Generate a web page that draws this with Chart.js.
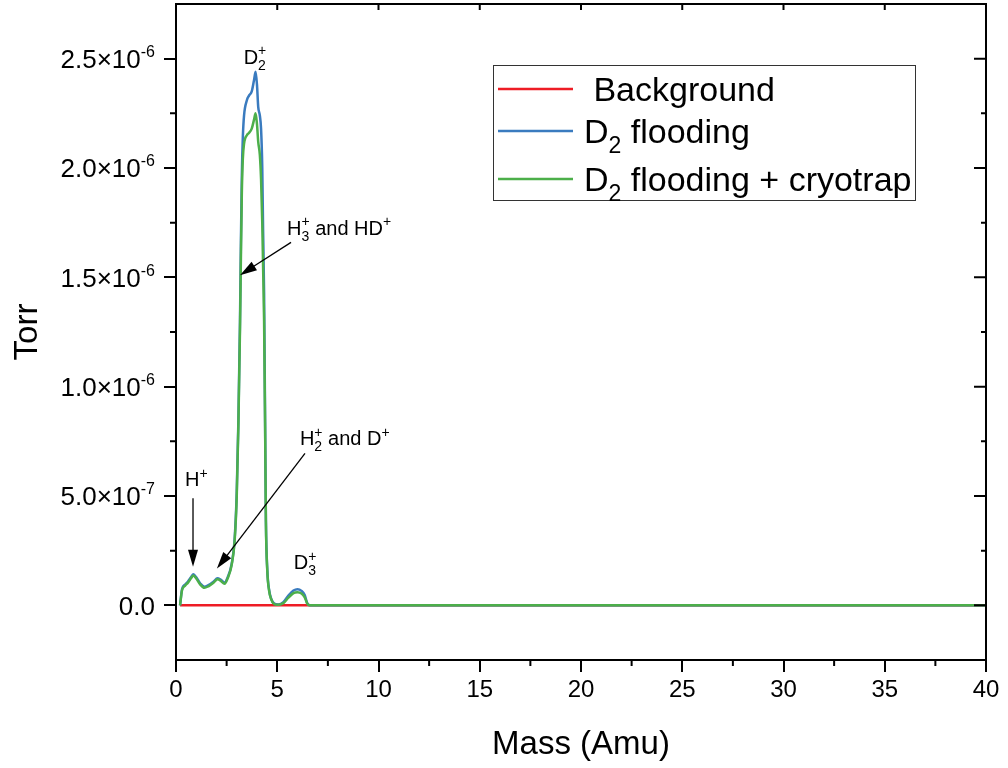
<!DOCTYPE html>
<html>
<head>
<meta charset="utf-8">
<script src="https://cdn.jsdelivr.net/npm/chart.js@4"></script>
<style>
  html, body { margin: 0; padding: 0; background: #fff; }
  #wrap { width: 1008px; height: 768px; position: relative; }
</style>
</head>
<body>
<div id="wrap"><canvas id="c"></canvas></div>
<script>
// pressure values are in units of 1e-6 Torr

const massBg = [0.2, 40];
const torrBg = [0, 0];

const massBlue = [0.2, 0.3, 0.45, 0.6, 0.75, 0.86, 1.0, 1.2, 1.4, 1.6, 1.85, 2.05, 2.2, 2.4, 2.55,
  2.75, 2.9, 3.0, 3.08, 3.16, 3.2, 3.25, 3.3, 3.36, 3.5, 3.6, 3.74, 3.85, 3.93, 4.0, 4.06, 4.14,
  4.2, 4.26, 4.3, 4.35, 4.4, 4.44, 4.51, 4.6, 4.7, 4.85, 5.05, 5.3, 5.55, 5.8, 6.0, 6.2, 6.35,
  6.48, 6.6, 40];
const torrBlue = [0, 0.075, 0.095, 0.11, 0.13, 0.142, 0.128, 0.1, 0.085, 0.092, 0.108, 0.124, 0.118, 0.104, 0.128,
  0.19, 0.31, 0.52, 0.84, 1.3, 1.62, 1.96, 2.14, 2.24, 2.31, 2.33, 2.35, 2.4, 2.44, 2.38, 2.28, 2.24,
  2.18, 2.0, 1.72, 1.43, 0.84, 0.39, 0.16, 0.07, 0.03, 0.008, 0.004, 0.014, 0.045, 0.068, 0.074, 0.066, 0.048,
  0.01, 0, 0];

const massGreen = massBlue;
const torrGreen = [0, 0.07, 0.09, 0.105, 0.125, 0.137, 0.123, 0.095, 0.08, 0.087, 0.103, 0.119, 0.113, 0.099, 0.123,
  0.185, 0.3, 0.5, 0.82, 1.26, 1.55, 1.88, 2.04, 2.11, 2.15, 2.16, 2.18, 2.22, 2.25, 2.2, 2.12, 2.06,
  1.95, 1.75, 1.55, 1.3, 0.82, 0.38, 0.155, 0.065, 0.028, 0.006, 0.003, 0.01, 0.035, 0.056, 0.06, 0.054, 0.038,
  0.008, 0, 0];

const xTicks = [0, 5, 10, 15, 20, 25, 30, 35, 40];
const xMinor = [2.5, 7.5, 12.5, 17.5, 22.5, 27.5, 32.5, 37.5];
const yTicks = [0, 0.5, 1, 1.5, 2, 2.5];
const yMinor = [0.25, 0.75, 1.25, 1.75, 2.25];
const yTickText = ['0.0', '5.0×10', '1.0×10', '1.5×10', '2.0×10', '2.5×10'];
const yTickExp = ['', '-7', '-6', '-6', '-6', '-6'];

// peak labels, placed in data coordinates
const peakLabels = [
  { x: 3.9, y: 2.51, align: 'center', parts: [{ t: 'D', sub: '2', sup: '+' }] },
  { x: 5.48, y: 1.727, align: 'left', parts: [{ t: 'H', sub: '3', sup: '+' }, { t: ' and HD', sup: '+' }] },
  { x: 6.12, y: 0.764, align: 'left', parts: [{ t: 'H', sub: '2', sup: '+' }, { t: ' and D', sup: '+' }] },
  { x: 1.0, y: 0.577, align: 'center', parts: [{ t: 'H', sup: '+' }] },
  { x: 6.37, y: 0.197, align: 'center', parts: [{ t: 'D', sub: '3', sup: '+' }] }
];
// arrows: [fromX, fromY, toX, toY]
const arrows = [
  [5.68, 1.66, 3.16, 1.51],
  [6.37, 0.695, 2.02, 0.168],
  [0.84, 0.49, 0.84, 0.177]
];

const legendItems = [
  { color: '#ee1c25', parts: [{ t: ' Background' }] },
  { color: '#3a7bbf', parts: [{ t: 'D', sub: '2' }, { t: ' flooding' }] },
  { color: '#4caf4a', parts: [{ t: 'D', sub: '2' }, { t: ' flooding + cryotrap' }] }
];

const FONT = '"Liberation Sans", Arial, sans-serif';
Chart.defaults.font.family = FONT;
Chart.defaults.color = '#000';

function toPoints(xs, ys) {
  return xs.map((x, i) => ({ x: x, y: ys[i] }));
}

// text with stacked subscript / superscript; y is the middle of the capitals
function drawRich(ctx, x, y, parts, size, align, ratio) {
  const small = Math.round(size * (ratio || 0.68));
  const big = size + 'px ' + FONT;
  const sm = small + 'px ' + FONT;
  let total = 0;
  const widths = parts.map(p => {
    ctx.font = big;
    const w1 = ctx.measureText(p.t).width;
    ctx.font = sm;
    const w2 = Math.max(p.sub ? ctx.measureText(p.sub).width : 0, p.sup ? ctx.measureText(p.sup).width : 0);
    total += w1 + w2;
    return [w1, w2];
  });
  let cx = align === 'center' ? x - total / 2 : (align === 'right' ? x - total : x);
  const base = y + size * 0.36;
  ctx.textAlign = 'left';
  ctx.textBaseline = 'alphabetic';
  parts.forEach((p, i) => {
    ctx.font = big;
    ctx.fillText(p.t, cx, base);
    cx += widths[i][0];
    ctx.font = sm;
    if (p.sub) ctx.fillText(p.sub, cx, base + size * 0.3);
    if (p.sup) ctx.fillText(p.sup, cx, base - size * 0.42);
    cx += widths[i][1];
  });
}

function drawArrow(ctx, x1, y1, x2, y2) {
  const ang = Math.atan2(y2 - y1, x2 - x1);
  const len = 17, half = 5;
  ctx.beginPath();
  ctx.moveTo(x1, y1);
  ctx.lineTo(x2 - Math.cos(ang) * len * 0.8, y2 - Math.sin(ang) * len * 0.8);
  ctx.stroke();
  ctx.beginPath();
  ctx.moveTo(x2, y2);
  ctx.lineTo(x2 - Math.cos(ang) * len - Math.sin(ang) * half, y2 - Math.sin(ang) * len + Math.cos(ang) * half);
  ctx.lineTo(x2 - Math.cos(ang) * len + Math.sin(ang) * half, y2 - Math.sin(ang) * len - Math.cos(ang) * half);
  ctx.closePath();
  ctx.fill();
}

const extras = {
  id: 'extras',
  afterDraw(chart) {
    const ctx = chart.ctx;
    const xs = chart.scales.x, ys = chart.scales.y;
    const a = chart.chartArea;
    ctx.save();
    ctx.strokeStyle = '#000';
    ctx.fillStyle = '#000';

    // top and right frame
    ctx.lineWidth = 2;
    ctx.beginPath();
    ctx.moveTo(a.left, a.top);
    ctx.lineTo(a.right, a.top);
    ctx.lineTo(a.right, a.bottom);
    ctx.stroke();

    // minor ticks outside, mirrored ticks inside
    ctx.beginPath();
    xMinor.forEach(v => {
      const px = xs.getPixelForValue(v);
      ctx.moveTo(px, a.bottom); ctx.lineTo(px, a.bottom + 6);
    });
    xTicks.forEach(v => {
      const px = xs.getPixelForValue(v);
      ctx.moveTo(px, a.top); ctx.lineTo(px, a.top + 6);
    });
    yMinor.forEach(v => {
      const py = ys.getPixelForValue(v);
      ctx.moveTo(a.left, py); ctx.lineTo(a.left - 6, py);
      ctx.moveTo(a.right, py); ctx.lineTo(a.right - 5, py);
    });
    yTicks.forEach(v => {
      const py = ys.getPixelForValue(v);
      ctx.moveTo(a.right, py); ctx.lineTo(a.right - 12, py);
    });
    ctx.stroke();

    // y tick labels with exponents
    yTicks.forEach((v, i) => {
      const py = ys.getPixelForValue(v);
      drawRich(ctx, 155, py, [{ t: yTickText[i], sup: yTickExp[i] || undefined }], 26, 'right', 0.6);
    });

    // peak labels and arrows
    peakLabels.forEach(l => {
      drawRich(ctx, xs.getPixelForValue(l.x), ys.getPixelForValue(l.y), l.parts, 20, l.align);
    });
    ctx.lineWidth = 1.3;
    arrows.forEach(r => {
      drawArrow(ctx, xs.getPixelForValue(r[0]), ys.getPixelForValue(r[1]),
        xs.getPixelForValue(r[2]), ys.getPixelForValue(r[3]));
    });

    // legend
    ctx.lineWidth = 1;
    ctx.strokeStyle = '#333';
    ctx.strokeRect(493.5, 65.5, 422, 135);
    const rowY = [89, 131, 179];
    legendItems.forEach((it, i) => {
      ctx.strokeStyle = it.color;
      ctx.lineWidth = 2.5;
      ctx.beginPath();
      ctx.moveTo(498, rowY[i]);
      ctx.lineTo(573, rowY[i]);
      ctx.stroke();
      drawRich(ctx, 584, rowY[i], it.parts, 34, 'left');
    });
    ctx.restore();
  }
};

new Chart(document.getElementById('c'), {
  type: 'scatter',
  data: {
    datasets: [
      { label: 'Background', data: toPoints(massBg, torrBg), borderColor: '#ee1c25', order: 3 },
      { label: 'D2 flooding', data: toPoints(massBlue, torrBlue), borderColor: '#3a7bbf', order: 2 },
      { label: 'D2 flooding + cryotrap', data: toPoints(massGreen, torrGreen), borderColor: '#4caf4a', order: 1 }
    ]
  },
  options: {
    responsive: true,
    maintainAspectRatio: false,
    animation: false,
    layout: { padding: { top: 4, right: 22, left: 0, bottom: 0 } },
    elements: {
      point: { radius: 0 },
      line: { borderWidth: 2.5, cubicInterpolationMode: 'monotone', fill: false }
    },
    datasets: { scatter: { showLine: true } },
    plugins: {
      legend: { display: false },
      tooltip: { enabled: false }
    },
    scales: {
      x: {
        type: 'linear',
        min: 0,
        max: 40,
        afterBuildTicks: s => { s.ticks = xTicks.map(v => ({ value: v })); },
        afterFit: s => { s.height = 108; },
        ticks: { font: { size: 24 }, padding: 4, maxRotation: 0 },
        grid: { drawOnChartArea: false, drawTicks: true, tickLength: 12, color: '#000', lineWidth: 2 },
        border: { display: true, color: '#000', width: 2 },
        title: { display: true, text: 'Mass (Amu)', font: { size: 33 }, padding: { bottom: 3 } }
      },
      y: {
        type: 'linear',
        min: -0.25,
        max: 2.75,
        afterBuildTicks: s => { s.ticks = yTicks.map(v => ({ value: v })); },
        afterFit: s => { s.width = 176; },
        ticks: { display: false },
        grid: { drawOnChartArea: false, drawTicks: true, tickLength: 12, color: '#000', lineWidth: 2 },
        border: { display: true, color: '#000', width: 2 },
        title: { display: true, text: 'Torr', font: { size: 33 }, padding: { top: 8 } }
      }
    }
  },
  plugins: [extras]
});
</script>
</body>
</html>
